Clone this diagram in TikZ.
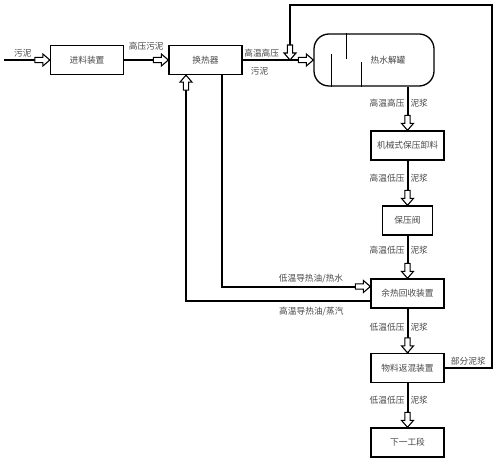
\documentclass[tikz,border=0pt]{standalone}
\usepackage{fontspec}
\newfontfamily\cjk{Noto Sans CJK SC}
\usetikzlibrary{decorations.markings}

\begin{document}
\begin{tikzpicture}[x=1pt, y=-1pt, font=\cjk\fontsize{8.7}{10}\selectfont, text=black!72,
    box/.style={draw=black, line width=1.3pt, minimum width=73pt, minimum height=29pt, inner sep=0pt},
    harrow/.style={draw=black, fill=white, line width=1.1pt},
    flow/.style={line width=2pt, postaction={decorate}, decoration={markings, mark=at position 1 with {
        \draw[harrow] (0,0) -- (-7pt,6pt) -- (-7pt,2.6pt) -- (-15pt,2.6pt) -- (-15pt,-2.6pt) -- (-7pt,-2.6pt) -- (-7pt,-6pt) -- cycle;}}},
    lbl/.style={inner sep=2pt}]

    \useasboundingbox (0,0) rectangle (500,462);

    \node[box] at (87,60) (feed) {进料装置};
    \node[box] at (205.5,60) (hx) {换热器};
    \node[draw=black, line width=1.3pt, rounded corners=15pt, minimum width=120pt, minimum height=52pt] at (374,60) (tank) {};
    \node at (388,60) (tanktxt) {热水解罐};
    \node[box] at (407.5,145.5) (unload) {机械式保压卸料};
    \node[box, minimum width=50pt] at (407.5,220.5) (valve) {保压阀};
    \node[box] at (407.5,293.5) (recov) {余热回收装置};
    \node[box] at (407.5,368) (mix) {物料返混装置};
    \node[box] at (407.5,442.5) (next) {下一工段};

    \coordinate (src) at (4,60);
    \coordinate (top) at (492,5);
    \coordinate (join) at (290,60);

    % baffles in the tank
    \draw[line width=1pt] ([xshift=-28pt]tank.north) -- ++(0,26);
    \draw[line width=1pt] ([xshift=-43pt]tank.south) -- ++(0,-33);
    \draw[line width=1pt] ([xshift=-13pt]tank.south) -- ++(0,-25);

    \path (src) edge[flow] node[lbl, above, pos=.41] {污泥} (feed);
    \path (feed) edge[flow] node[lbl, above=7pt] {高压污泥} (hx);
    \path (hx) edge[flow] node[lbl, above, pos=.27] {高温高压} node[lbl, below=4pt, pos=.24] {污泥} (tank);

    \path ([xshift=33.5pt]tank.south) edge[flow] node[lbl, left, pos=.38] {高温高压} node[lbl, right, pos=.38] {泥浆} (unload);
    \path (unload) edge[flow] node[lbl, left, pos=.39] {高温低压} node[lbl, right, pos=.39] {泥浆} (valve);
    \path (valve) edge[flow] node[lbl, left, pos=.34] {高温低压} node[lbl, right, pos=.34] {泥浆} (recov);
    \path (recov) edge[flow] node[lbl, left, pos=.43] {低温低压} node[lbl, right, pos=.43] {泥浆} (mix);
    \path (mix) edge[flow] node[lbl, left, pos=.39] {低温低压} node[lbl, right, pos=.39] {泥浆} (next);

    % heat carrier loop
    \draw[flow] ([xshift=16.5pt]hx.south) |- node[lbl, pos=.8, above] {低温导热油/热水} ([yshift=7pt]recov.west);
    \draw[flow] ([yshift=-7.5pt]recov.west) -| node[lbl, pos=.16, below=3pt] {高温导热油/蒸汽} ([xshift=-19.5pt]hx.south);

    % part of the slurry back to the tank
    \draw[flow] (mix.east) -| node[lbl, pos=.25, above] {部分泥浆} (top) -| (join);

\end{tikzpicture}
\end{document}
